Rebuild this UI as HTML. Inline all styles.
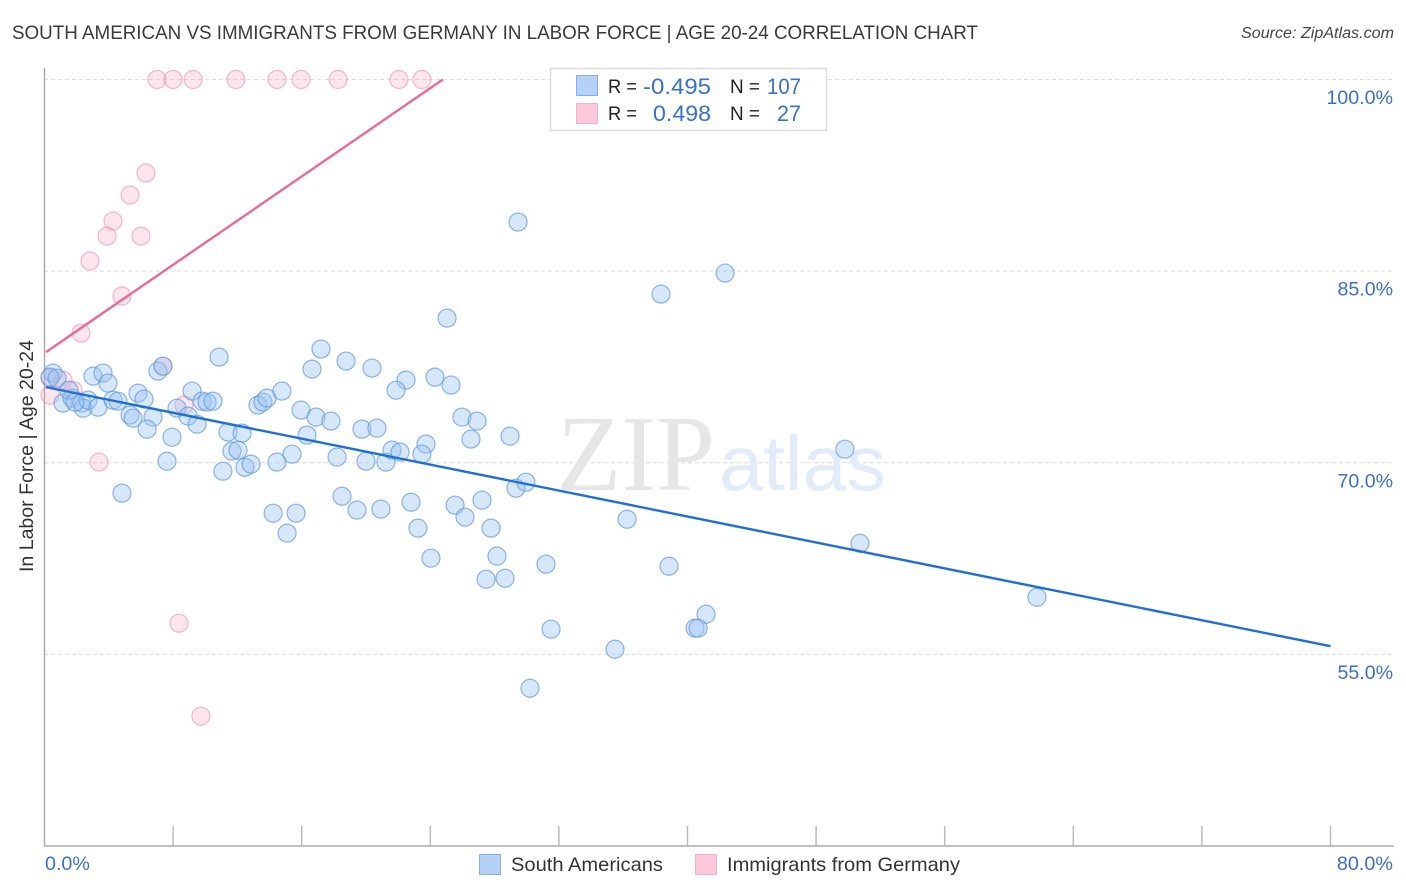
<!DOCTYPE html>
<html lang="en">
<head>
<meta charset="utf-8">
<title>South American vs Immigrants from Germany in Labor Force | Age 20-24 Correlation Chart</title>
<style>
html,body{margin:0;padding:0;background:#fff;width:1406px;height:892px;overflow:hidden}
svg{display:block;font-family:"Liberation Sans",sans-serif}
</style>
</head>
<body>
<svg id="chart" xmlns="http://www.w3.org/2000/svg" width="1406" height="892" viewBox="0 0 1406 892">
  <text x="12" y="39" font-size="19" fill="#3a3a3a" textLength="966" lengthAdjust="spacingAndGlyphs">SOUTH AMERICAN VS IMMIGRANTS FROM GERMANY IN LABOR FORCE | AGE 20-24 CORRELATION CHART</text>
  <text x="1241" y="38" font-size="15.5" font-style="italic" fill="#444" textLength="153" lengthAdjust="spacingAndGlyphs">Source: ZipAtlas.com</text>
  <g id="grid"></g>
  <g>
    <text x="557" y="490" font-family="'Liberation Serif',serif" font-size="108" fill="#e6e6e6" textLength="158" lengthAdjust="spacingAndGlyphs">ZIP</text>
    <text x="719" y="490" font-size="78" fill="#e2ebf9" textLength="167" lengthAdjust="spacingAndGlyphs">atlas</text>
  </g>
  <g id="axes"></g>
  <text transform="translate(33,456) rotate(-90)" font-size="19" fill="#333" text-anchor="middle" textLength="232" lengthAdjust="spacingAndGlyphs">In Labor Force | Age 20-24</text>
  <g id="points-pink"></g>
  <g id="points-blue"></g>
  <g id="trends"></g>
  <g>
    <rect x="550.5" y="68.5" width="276" height="62" fill="#fff" fill-opacity="0.92" stroke="#ddd" stroke-width="1.5"/>
    <rect x="576.5" y="75.5" width="21" height="20" fill="#b5d2f6" stroke="#7fb0ec" stroke-width="1"/>
    <rect x="576.5" y="103.5" width="21" height="20" fill="#fdc9da" stroke="#f7afc7" stroke-width="1"/>
    <text x="608" y="93" font-size="19" fill="#222" textLength="29" lengthAdjust="spacingAndGlyphs">R =</text>
    <text x="643" y="94" font-size="22.5" fill="#3471d0" textLength="68" lengthAdjust="spacingAndGlyphs">-0.495</text>
    <text x="730" y="93" font-size="19" fill="#222" textLength="30" lengthAdjust="spacingAndGlyphs">N =</text>
    <text x="767" y="94" font-size="22.5" fill="#3471d0" textLength="34" lengthAdjust="spacingAndGlyphs">107</text>
    <text x="608" y="120" font-size="19" fill="#222" textLength="29" lengthAdjust="spacingAndGlyphs">R =</text>
    <text x="653" y="121" font-size="22.5" fill="#3471d0" textLength="58" lengthAdjust="spacingAndGlyphs">0.498</text>
    <text x="730" y="120" font-size="19" fill="#222" textLength="30" lengthAdjust="spacingAndGlyphs">N =</text>
    <text x="777" y="121" font-size="22.5" fill="#3471d0" textLength="24" lengthAdjust="spacingAndGlyphs">27</text>
  </g>
  <g>
    <rect x="479.5" y="854.5" width="21" height="20" fill="#b5d2f6" stroke="#7fb0ec" stroke-width="1"/>
    <text x="511" y="871" font-size="19.5" fill="#333" textLength="152" lengthAdjust="spacingAndGlyphs">South Americans</text>
    <rect x="695.5" y="854.5" width="21" height="20" fill="#fdc9da" stroke="#f7afc7" stroke-width="1"/>
    <text x="727" y="871" font-size="19.5" fill="#333" textLength="233" lengthAdjust="spacingAndGlyphs">Immigrants from Germany</text>
  </g>
</svg>
<script>
const blueX = [0.53,0.34,0.78,1.15,1.71,1.52,2.33,2.40,2.71,3.33,3.02,3.64,3.95,4.26,4.57,5.32,5.51,5.82,6.19,6.75,6.38,7.93,7.62,4.82,7.06,7.37,10.86,9.18,8.24,8.93,9.49,9.80,10.11,10.48,11.42,12.29,11.66,12.04,12.47,12.85,11.10,14.46,15.40,14.22,15.65,15.09,13.28,13.59,13.84,14.77,15.96,17.20,16.64,18.76,20.37,22.49,21.87,24.29,25.29,25.04,29.46,42.34,38.35,16.89,17.82,16.33,18.20,19.75,20.68,20.00,21.24,21.62,22.12,23.73,23.48,25.97,26.91,26.53,28.96,18.51,19.44,20.93,22.80,23.23,24.04,25.54,26.16,27.22,27.78,28.15,27.47,28.65,29.33,29.95,31.20,31.51,30.20,35.49,36.24,38.85,41.15,40.47,40.66,49.79,50.73,61.74,1.90];
const blueY = [77.02,76.70,76.62,74.67,75.06,75.68,74.67,74.27,74.90,74.35,76.78,77.02,76.23,74.90,74.82,73.73,73.49,75.45,74.98,73.57,72.63,72.00,70.12,67.62,77.17,77.56,78.27,75.61,74.27,73.65,73.02,74.82,74.75,74.82,72.40,72.32,70.91,70.99,69.65,69.89,69.34,70.05,70.67,66.05,66.05,64.49,74.51,74.75,75.06,75.61,74.12,78.90,77.33,77.96,77.41,76.47,75.68,76.70,76.08,81.32,88.84,84.85,83.20,73.57,73.26,72.16,70.44,72.63,72.71,70.12,70.05,70.99,70.83,71.46,70.67,73.57,73.26,71.85,72.08,67.38,66.29,66.37,66.91,64.88,62.53,66.68,65.74,67.07,64.88,62.69,60.88,60.96,68.01,68.48,62.06,56.97,52.35,55.40,65.58,61.90,58.14,57.05,57.05,71.06,63.70,59.47,74.75];
const pinkX = [7.00,7.99,9.24,11.91,14.46,15.96,18.26,22.05,23.48,34.56,6.31,5.32,4.26,3.89,6.00,2.83,4.82,2.27,7.37,1.15,1.77,0.34,0.34,3.39,8.68,8.37,9.73];
const pinkY = [100,100,100,100,100,100,100,100,100,100,92.68,90.96,88.92,87.74,87.74,85.79,83.05,80.15,77.56,76.47,75.68,76.62,75.29,70.05,74.51,57.44,50.16];
const blueTrendX = [0.09,80];
const blueTrendY = [75.92,55.64];
const pinkTrendX = [0.09,24.78];
const pinkTrendY = [78.66,100];
const yTickValues = [100,85,70,55];
const yTickLabels = ["100.0%","85.0%","70.0%","55.0%"];
const xTickValues = [8,16,24,32,40,48,56,64,72,80];
const xEndValues = [0,80];
const xEndLabels = ["0.0%","80.0%"];

const NS = "http://www.w3.org/2000/svg";
function xScale(v){return 44.5 + v * 16.075;}
function yScale(v){return 79.5 + (100 - v) * 12.775;}
function labelWidth(s){return s.length * 11.1;}
function mk(tag, attrs, parent){
  const el = document.createElementNS(NS, tag);
  for (const k in attrs) el.setAttribute(k, attrs[k]);
  parent.appendChild(el);
  return el;
}

const grid = document.getElementById("grid");
const axes = document.getElementById("axes");
yTickValues.forEach(function(v, i){
  const line = mk("line", {x1:44, x2:1394, y1:yScale(v), y2:yScale(v), stroke:"#dcdcdc", "stroke-width":1, "stroke-dasharray":"4 3"}, grid);
  
  
  const w = labelWidth(yTickLabels[i]);
  const t = mk("text", {x:1393 - w, y:yScale(v)+24.5, "font-size":19, fill:"#3b6fd0", textLength:w, lengthAdjust:"spacingAndGlyphs"}, axes);
  t.textContent = yTickLabels[i];
  
  
});

const yAxis = mk("line", {x1:44.5, x2:44.5, y1:68, y2:846.5, stroke:"#aaa", "stroke-width":1.5}, axes);


const xAxis = mk("line", {x1:44, x2:1394, y1:846, y2:846, stroke:"#aaa", "stroke-width":1.5}, axes);


xTickValues.forEach(function(v){
  const tick = mk("line", {x1:xScale(v), x2:xScale(v), y1:826, y2:846, stroke:"#bbb", "stroke-width":1.5}, axes);
  
  
});
xEndValues.forEach(function(v, i){
  const w = labelWidth(xEndLabels[i]) * 1.01;
  const t = mk("text", {x: i === 0 ? xScale(v) + 0.5 : 1393 - w, y:870, "font-size":19, fill:"#3b6fd0", textLength:w, lengthAdjust:"spacingAndGlyphs"}, axes);
  t.textContent = xEndLabels[i];
  
  
});

const pinkGroup = document.getElementById("points-pink");
pinkX.forEach(function(v, i){
  const c = mk("circle", {cx:xScale(v), cy:yScale(pinkY[i]), r:9, fill:"#f7a8c0", "fill-opacity":0.3, stroke:"#ee8aa9", "stroke-opacity":0.6, "stroke-width":1.2}, pinkGroup);
  
  
});
const blueGroup = document.getElementById("points-blue");
blueX.forEach(function(v, i){
  const c = mk("circle", {cx:xScale(v), cy:yScale(blueY[i]), r:9, fill:"#9cc3f2", "fill-opacity":0.4, stroke:"#5b95e0", "stroke-opacity":0.7, "stroke-width":1.2}, blueGroup);
  
  
});

const trends = document.getElementById("trends");
const pinkTrend = mk("line", {x1:xScale(pinkTrendX[0]), y1:yScale(pinkTrendY[0]), x2:xScale(pinkTrendX[1]), y2:yScale(pinkTrendY[1]), stroke:"#e96a96", "stroke-width":2.4}, trends);


const blueTrend = mk("line", {x1:xScale(blueTrendX[0]), y1:yScale(blueTrendY[0]), x2:xScale(blueTrendX[1]), y2:yScale(blueTrendY[1]), stroke:"#1f6fd8", "stroke-width":2.4}, trends);


</script>
</body>
</html>
